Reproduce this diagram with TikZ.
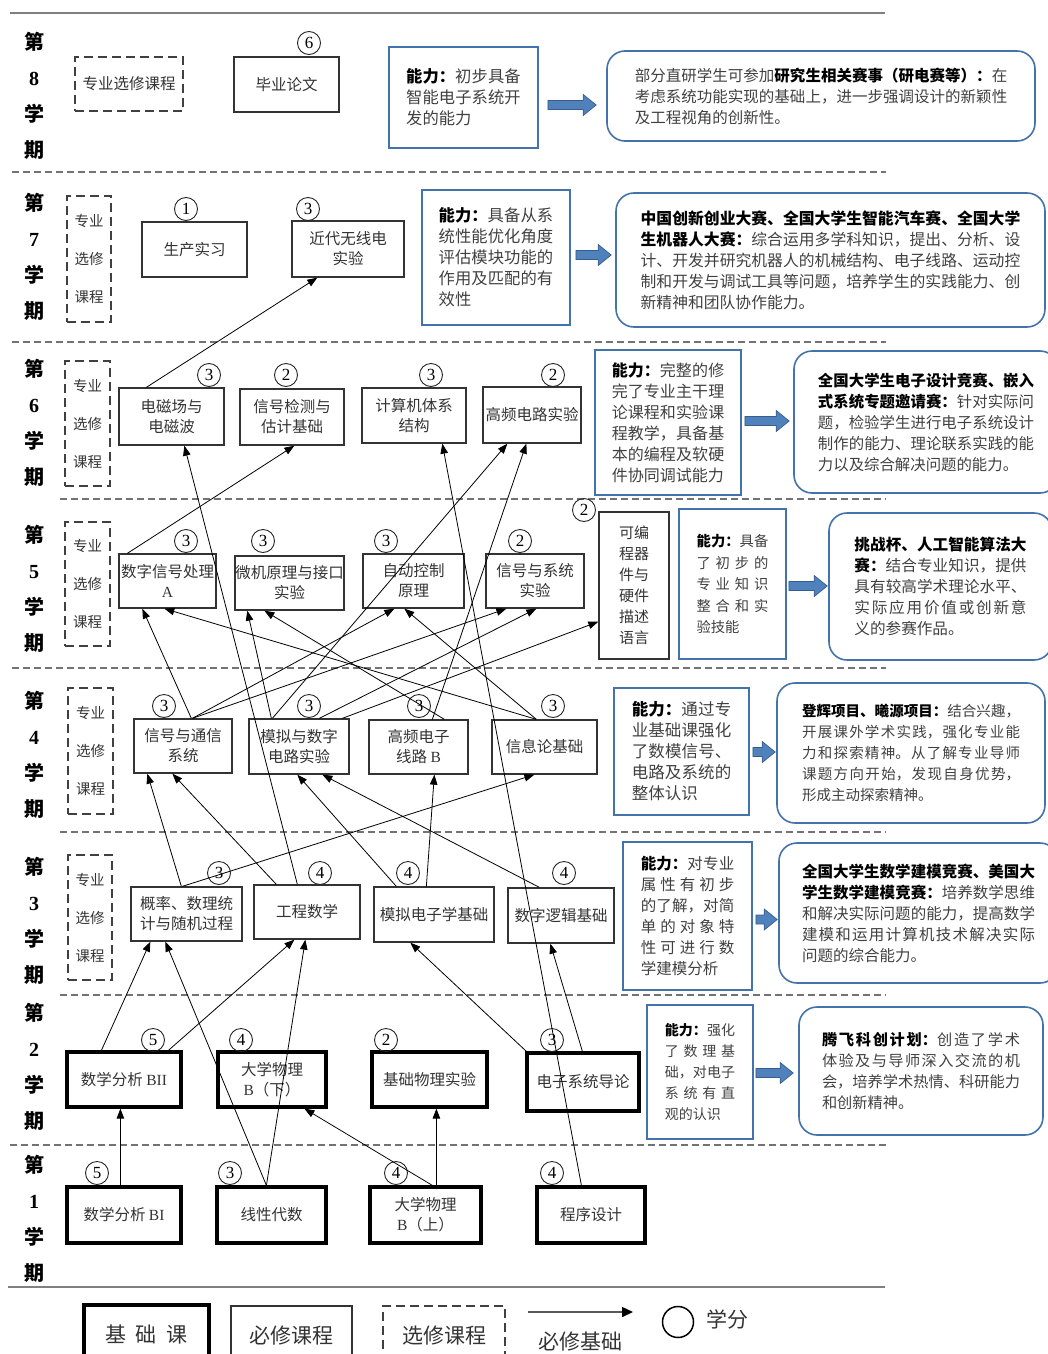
\documentclass[tikz,border=0pt]{standalone}
\usepackage{fontspec}
\setmainfont{Liberation Serif}
\newfontfamily\cjk{Noto Sans CJK SC}
\usetikzlibrary{arrows.meta,calc}
\XeTeXlinebreaklocale "zh"
\XeTeXlinebreakskip=0pt plus 2pt
\definecolor{bblue}{RGB}{68,114,170}
\definecolor{afill}{RGB}{79,129,189}
\definecolor{aline}{RGB}{56,93,140}
\definecolor{txt}{RGB}{64,64,64}
\newcommand\bkt[1]{\textbf{\color{black}#1}}
\newcommand\lnk[4]{\draw[conn] ($(#1.north west)+(#2,0)$) -- ($(#3.south west)+(#4,0)$);}
\newcommand\barrow[5]{%
 \path[barr] let \p1=(#1.east), \p2=(#2.west) in
  ({\x1+#4pt},{\y1-(#3)*1pt+4.5pt}) -- ({\x2-#5pt-13pt},{\y1-(#3)*1pt+4.5pt}) --
  ({\x2-#5pt-13pt},{\y1-(#3)*1pt+10.5pt}) -- ({\x2-#5pt},{\y1-(#3)*1pt}) --
  ({\x2-#5pt-13pt},{\y1-(#3)*1pt-10.5pt}) -- ({\x2-#5pt-13pt},{\y1-(#3)*1pt-4.5pt}) --
  ({\x1+#4pt},{\y1-(#3)*1pt-4.5pt}) -- cycle;}
\begin{document}
\begin{tikzpicture}[x=1pt,y=-1pt,
 course/.style={draw=black!80, line width=1.3pt, inner sep=0pt, align=center, text=black!80, font=\cjk\fontsize{15.5}{20}\selectfont},
 basec/.style={course, draw=black, line width=3.2pt},
 ebox/.style={draw=black!75, line width=1.3pt, dash pattern=on 9pt off 5pt, inner sep=0pt, align=center, text=black!80, font=\cjk\fontsize{14.5}{38}\selectfont},
 abox/.style={draw=bblue, line width=1.8pt, inner sep=0pt, align=justify, text=txt},
 rbox/.style={draw=bblue, line width=1.6pt, rounded corners=18pt, inner sep=0pt, align=justify, text=txt},
 cr/.style={circle, draw=black!85, line width=0.9pt, minimum size=23pt, inner sep=0pt, font=\fontsize{17}{17}\selectfont},
 sem/.style={align=center, font=\bfseries\fontsize{20}{36}\selectfont},
 conn/.style={draw=black, line width=0.8pt, -{Triangle[length=10pt,width=7.5pt]}},
 sepline/.style={draw=black!55, line width=1.1pt, dash pattern=on 7pt off 4pt},
 barr/.style={fill=afill, draw=aline, line width=0.7pt}]
\useasboundingbox (0,0) rectangle (1048,1354);
\clip (0,0) rectangle (1048,1354);

% frame lines
\draw[black!50, line width=1.4pt] (10,13) -- (885,13);
\draw[sepline] (12,172) -- (886,172);
\draw[sepline] (12,342) -- (886,342);
\draw[sepline] (60,499) -- (886,499);
\draw[sepline] (12,668) -- (886,668);
\draw[sepline] (60,832) -- (886,832);
\draw[sepline] (60,995) -- (886,995);
\draw[sepline] (10,1145) -- (886,1145);
\draw[black!50, line width=1.4pt] (8,1287) -- (885,1287);

% semester labels
\node[sem] (s8) at (34,96) {{\cjk 第}\\8\\{\cjk 学}\\{\cjk 期}};
\node[sem] (s7) at (34,256.5) {{\cjk 第}\\7\\{\cjk 学}\\{\cjk 期}};
\node[sem] (s6) at (34,422.5) {{\cjk 第}\\6\\{\cjk 学}\\{\cjk 期}};
\node[sem] (s5) at (34,588.5) {{\cjk 第}\\5\\{\cjk 学}\\{\cjk 期}};
\node[sem] (s4) at (34,754.5) {{\cjk 第}\\4\\{\cjk 学}\\{\cjk 期}};
\node[sem] (s3) at (34,921) {{\cjk 第}\\3\\{\cjk 学}\\{\cjk 期}};
\node[sem] (s2) at (34,1066.5) {{\cjk 第}\\2\\{\cjk 学}\\{\cjk 期}};
\node[sem] (s1) at (34,1218.5) {{\cjk 第}\\1\\{\cjk 学}\\{\cjk 期}};

% ---------- row 8
\node[ebox, font=\cjk\fontsize{15.5}{20}\selectfont, minimum width=108pt, minimum height=54pt] (e8) at (129,84) {专业选修课程};
\node[course, minimum width=105pt, minimum height=55pt] (bylw) at (286.5,84.5) {毕业论文};
\node[cr] (k8a) at (309,43) {6};
\node[abox, minimum width=149pt, minimum height=101pt, text width=114.6pt, font=\cjk\fontsize{16.3}{21}\selectfont] (ab8) at (463.5,97.5)
 {\bkt{能力：}初步具备\linebreak 智能电子系统开\linebreak 发的能力};
\node[rbox, minimum width=428pt, minimum height=90pt, text width=372.5pt, font=\cjk\fontsize{15.5}{21}\selectfont] (cb8) at (821,96)
 {部分直研学生可参加\bkt{研究生相关赛事（研电赛等）：}在\linebreak 考虑系统功能实现的基础上，进一步强调设计的新颖性\linebreak 及工程视角的创新性。};

% ---------- row 7
\node[ebox, minimum width=44pt, minimum height=126pt] (e7) at (89,259) {专业\\选修\\课程};
\node[course, minimum width=105pt, minimum height=55pt] (scsx) at (194.5,249.5) {生产实习};
\node[cr] (k7a) at (186,209) {1};
\node[course, minimum width=112pt, minimum height=56pt] (jdwx) at (348,249) {近代无线电\\实验};
\node[cr] (k7b) at (308,209) {3};
\node[abox, minimum width=148pt, minimum height=135pt, text width=114.6pt, font=\cjk\fontsize{16.3}{21}\selectfont] (ab7) at (496,257.5)
 {\bkt{能力：}具备从系\linebreak 统性能优化角度\linebreak 评估模块功能的\linebreak 作用及匹配的有\linebreak 效性};
\node[rbox, minimum width=429pt, minimum height=134pt, text width=379.7pt, font=\cjk\fontsize{15.8}{21}\selectfont] (cb7) at (830.5,260)
 {\bkt{中国创新创业大赛、全国大学生智能汽车赛、全国大学}\linebreak \bkt{生机器人大赛：}综合运用多学科知识，提出、分析、设\linebreak 计、开发并研究机器人的机械结构、电子线路、运动控\linebreak 制和开发与调试工具等问题，培养学生的实践能力、创\linebreak 新精神和团队协作能力。};

% ---------- row 6
\node[ebox, minimum width=45pt, minimum height=125pt] (e6) at (87.5,423.5) {专业\\选修\\课程};
\node[course, minimum width=105pt, minimum height=57pt] (dcc) at (171.5,416.5) {电磁场与\\电磁波};
\node[cr] (k6a) at (209,375) {3};
\node[course, minimum width=104pt, minimum height=56pt] (xhjc) at (292,417) {信号检测与\\估计基础};
\node[cr] (k6b) at (286,375) {2};
\node[course, minimum width=104pt, minimum height=55pt] (jsj) at (414,415.5) {计算机体系\\结构};
\node[cr] (k6c) at (431,375) {3};
\node[course, minimum width=98pt, minimum height=56pt] (gpsy) at (532,415) {高频电路实验};
\node[cr] (k6d) at (553,375) {2};
\node[abox, minimum width=146pt, minimum height=145pt, text width=112.5pt, font=\cjk\fontsize{16}{21}\selectfont] (ab6) at (668,422.5)
 {\bkt{能力：}完整的修\linebreak 完了专业主干理\linebreak 论课程和实验课\linebreak 程教学，具备基\linebreak 本的编程及软硬\linebreak 件协同调试能力};
\node[rbox, minimum width=264pt, minimum height=142pt, text width=216.1pt, font=\cjk\fontsize{15.4}{21}\selectfont] (cb6) at (926,422)
 {\bkt{全国大学生电子设计竞赛、嵌入}\linebreak \bkt{式系统专题邀请赛：}针对实际问\linebreak 题，检验学生进行电子系统设计\linebreak 制作的能力、理论联系实践的能\linebreak 力以及综合解决问题的能力。};

% ---------- row 5
\node[ebox, minimum width=45pt, minimum height=124pt] (e5) at (87.5,584) {专业\\选修\\课程};
\node[course, minimum width=97pt, minimum height=54pt] (dsp) at (167.5,581) {数字信号处理\\{\rmfamily A}};
\node[cr] (k5a) at (186,541) {3};
\node[course, minimum width=109pt, minimum height=54pt] (wjyl) at (289.5,583) {微机原理与接口\\实验};
\node[cr] (k5b) at (263,541) {3};
\node[course, minimum width=101pt, minimum height=54pt] (zdkz) at (413.5,581) {自动控制\\原理};
\node[cr] (k5c) at (386,541) {3};
\node[course, minimum width=98pt, minimum height=54pt] (xhxt) at (535,581) {信号与系统\\实验};
\node[cr] (k5d) at (520,541) {2};
\node[course, minimum width=70pt, minimum height=147pt, font=\cjk\fontsize{15}{21}\selectfont] (kbc) at (634,585.5) {可编\\程器\\件与\\硬件\\描述\\语言};
\node[cr] (k5e) at (584,510) {2};
\node[abox, minimum width=107pt, minimum height=150pt, text width=72pt, font=\cjk\fontsize{14.3}{21.5}\selectfont] (ab5) at (732.5,584)
 {\bkt{能力：}具备\linebreak 了初步的\linebreak 专业知识\linebreak 整合和实\linebreak 验技能};
\node[rbox, minimum width=223pt, minimum height=147pt, text width=172.1pt, font=\cjk\fontsize{15.6}{21}\selectfont] (cb5) at (940.5,586.5)
 {\bkt{挑战杯、人工智能算法大}\linebreak \bkt{赛：}结合专业知识，提供\linebreak 具有较高学术理论水平、\linebreak 实际应用价值或创新意\linebreak 义的参赛作品。};

% ---------- row 4
\node[ebox, minimum width=45pt, minimum height=126pt] (e4) at (90.5,751) {专业\\选修\\课程};
\node[course, minimum width=98pt, minimum height=54pt] (xhtx) at (183,746) {信号与通信\\系统};
\node[cr] (k4a) at (164,706) {3};
\node[course, minimum width=100pt, minimum height=55pt] (mnsz) at (299,746.5) {模拟与数字\\电路实验};
\node[cr] (k4b) at (309,706) {3};
\node[course, minimum width=99pt, minimum height=54pt] (gpdz) at (418.5,747) {高频电子\\线路 {\rmfamily B}};
\node[cr] (k4c) at (419,706) {3};
\node[course, minimum width=105pt, minimum height=54pt] (xxl) at (544.5,747) {信息论基础};
\node[cr] (k4d) at (553,706) {3};
\node[abox, minimum width=135pt, minimum height=127pt, text width=99.5pt, font=\cjk\fontsize{16.5}{21}\selectfont] (ab4) at (681.5,751.5)
 {\bkt{能力：}通过专\linebreak 业基础课强化\linebreak 了数模信号、\linebreak 电路及系统的\linebreak 整体认识};
\node[rbox, minimum width=268pt, minimum height=140pt, text width=218pt, font=\cjk\fontsize{14.5}{21}\selectfont] (cb4) at (911,753)
 {\bkt{登辉项目、曦源项目：}结合兴趣，\linebreak 开展课外学术实践，强化专业能\linebreak 力和探索精神。从了解专业导师\linebreak 课题方向开始，发现自身优势，\linebreak 形成主动探索精神。};

% ---------- row 3
\node[ebox, minimum width=44pt, minimum height=125pt] (e3) at (90,917.5) {专业\\选修\\课程};
\node[course, minimum width=111pt, minimum height=54pt] (gl) at (186.5,914) {概率、数理统\\计与随机过程};
\node[cr] (k3a) at (219,873) {3};
\node[course, minimum width=106pt, minimum height=54pt] (gcsx) at (307,912) {工程数学};
\node[cr] (k3b) at (320,873) {4};
\node[course, minimum width=120pt, minimum height=55pt] (mndz) at (434,914.5) {模拟电子学基础};
\node[cr] (k3c) at (408,873) {4};
\node[course, minimum width=106pt, minimum height=55pt] (szlj) at (561,915.5) {数字逻辑基础};
\node[cr] (k3d) at (564,873) {4};
\node[abox, minimum width=129pt, minimum height=148pt, text width=93.5pt, font=\cjk\fontsize{15.5}{21}\selectfont] (ab3) at (687.5,916)
 {\bkt{能力：}对专业\linebreak 属性有初步\linebreak 的了解，对简\linebreak 单的对象特\linebreak 性可进行数\linebreak 学建模分析};
\node[rbox, minimum width=279pt, minimum height=140pt, text width=233pt, font=\cjk\fontsize{15.5}{21}\selectfont] (cb3) at (918.5,913)
 {\bkt{全国大学生数学建模竞赛、美国大}\linebreak \bkt{学生数学建模竞赛：}培养数学思维\linebreak 和解决实际问题的能力，提高数学\linebreak 建模和运用计算机技术解决实际\linebreak 问题的综合能力。};

% ---------- row 2
\node[basec, minimum width=114pt, minimum height=55pt] (sxfx2) at (124,1079.5) {数学分析 {\rmfamily BII}};
\node[cr] (k2a) at (153,1040) {5};
\node[basec, minimum width=108pt, minimum height=55pt] (dxwl2) at (272,1079.5) {大学物理\\{\rmfamily B}（下）};
\node[cr] (k2b) at (241,1040) {4};
\node[basec, minimum width=115pt, minimum height=55pt] (jcwl) at (429.5,1079.5) {基础物理实验};
\node[cr] (k2c) at (386,1040) {2};
\node[basec, minimum width=112pt, minimum height=58pt] (dzxt) at (583,1082) {电子系统导论};
\node[cr] (k2d) at (552,1040) {3};
\node[abox, minimum width=106pt, minimum height=134pt, text width=70.5pt, font=\cjk\fontsize{14}{21}\selectfont] (ab2) at (700,1072)
 {\bkt{能力：}强化\linebreak 了数理基\linebreak 础，对电子\linebreak 系统有直\linebreak 观的认识};
\node[rbox, minimum width=244pt, minimum height=128pt, text width=198pt, font=\cjk\fontsize{15.2}{21}\selectfont] (cb2) at (921,1071)
 {\bkt{腾飞科创计划：}创造了学术\linebreak 体验及与导师深入交流的机\linebreak 会，培养学术热情、科研能力\linebreak 和创新精神。};

% ---------- row 1
\node[basec, minimum width=114pt, minimum height=56pt] (sxfx1) at (124,1215) {数学分析 {\rmfamily BI}};
\node[cr] (k1a) at (97,1173) {5};
\node[basec, minimum width=109pt, minimum height=56pt] (xxds) at (271.5,1215) {线性代数};
\node[cr] (k1b) at (230,1173) {3};
\node[basec, minimum width=111pt, minimum height=56pt] (dxwl1) at (425.5,1215) {大学物理\\{\rmfamily B}（上）};
\node[cr] (k1c) at (396,1173) {4};
\node[basec, minimum width=108pt, minimum height=56pt] (cxsj) at (591,1215) {程序设计};
\node[cr] (k1d) at (552,1173) {4};

% ---------- blue block arrows
\barrow{ab8}{cb8}{7.5}{9}{10}
\barrow{ab7}{cb7}{-2.5}{5}{4}
\barrow{ab6}{cb6}{-1.5}{3}{4}
\barrow{ab5}{cb5}{2}{2}{1}
\barrow{ab4}{cb4}{0.5}{3}{1}
\barrow{ab3}{cb3}{3.5}{3}{1}
\barrow{ab2}{cb2}{1}{2}{5}

% ---------- prerequisite connectors
\lnk{dcc}{28}{jdwx}{26}
\lnk{gcsx}{44}{dcc}{66}
\lnk{dsp}{9}{xhjc}{55}
\lnk{cxsj}{46}{jsj}{81}
\lnk{mnsz}{24}{gpsy}{25}
\lnk{gpdz}{64}{gpsy}{44}
\lnk{xhtx}{58}{dsp}{24}
\lnk{xxl}{45}{dsp}{46}
\lnk{mnsz}{23}{wjyl}{13}
\lnk{gpdz}{76}{wjyl}{30}
\lnk{xhtx}{59}{zdkz}{32}
\lnk{xxl}{45}{zdkz}{42}
\lnk{xhtx}{59}{xhxt}{21}
\lnk{mnsz}{71}{xhxt}{51}
\draw[conn] ($(mnsz.north west)+(94,0)$) -- ($(kbc.south west)+(0,-38)$);
\lnk{gl}{51}{xhtx}{14}
\lnk{gcsx}{23}{xhtx}{39}
\lnk{mndz}{23}{mnsz}{49}
\lnk{szlj}{32}{mnsz}{74}
\lnk{mndz}{53}{gpdz}{66}
\lnk{gl}{52}{xxl}{43}
\lnk{sxfx2}{36}{gl}{20}
\lnk{xxds}{51}{gl}{35}
\lnk{sxfx2}{103}{gcsx}{41}
\lnk{xxds}{51}{gcsx}{52}
\lnk{dzxt}{1}{mndz}{37}
\lnk{dzxt}{57}{szlj}{43}
\lnk{sxfx1}{55}{sxfx2}{55}
\lnk{dxwl1}{64}{dxwl2}{88}
\lnk{dxwl1}{68}{jcwl}{66}

% ---------- legend
\node[basec, minimum width=125pt, minimum height=58pt, font=\cjk\fontsize{21}{21}\selectfont] (lg1) at (146.5,1334) {基\hspace{0.45em}础\hspace{0.45em}课};
\node[course, minimum width=121pt, minimum height=58pt, font=\cjk\fontsize{21}{21}\selectfont] (lg2) at (291.5,1335) {必修课程};
\node[ebox, minimum width=122pt, minimum height=58pt, font=\cjk\fontsize{21}{21}\selectfont] (lg3) at (444,1335) {选修课程};
\coordinate (la1) at (528,1312);
\coordinate (la2) at (633,1312);
\draw[line width=1.5pt, black!65, -{Triangle[length=11pt,width=10pt,color=black]}] (la1) -- (la2);
\node[text=black!80, font=\cjk\fontsize{21}{21}\selectfont] (lg4) at (580,1341) {必修基础};
\node[circle, draw=black, line width=1.5pt, minimum size=31pt, inner sep=0pt] (lg5) at (678,1322) {};
\node[text=black!80, font=\cjk\fontsize{21}{21}\selectfont] (lg6) at (727,1319) {学分};
\end{tikzpicture}
\end{document}
